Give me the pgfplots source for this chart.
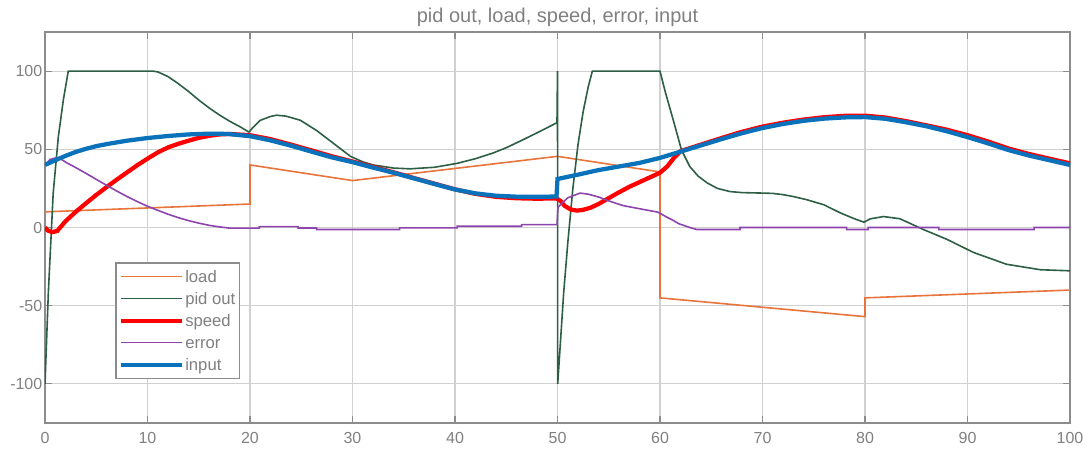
\documentclass[border=0pt]{standalone}
\usepackage{fontspec}
\setmainfont{Liberation Sans}
\usepackage{pgfplots}
\pgfplotsset{compat=1.18}
\usetikzlibrary{calc}
\definecolor{cload}{HTML}{E8743B}
\definecolor{cpid}{HTML}{2D5F45}
\definecolor{cspeed}{HTML}{FF0000}
\definecolor{cerr}{HTML}{8E44AD}
\definecolor{cinput}{HTML}{0A72BA}
\definecolor{txtgray}{HTML}{808080}
\definecolor{axgray}{HTML}{8C8C8C}
\definecolor{gridgray}{HTML}{D0D0D0}
\newcommand{\legtxt}[1]{\textcolor{txtgray}{#1}}
\begin{document}
\begin{tikzpicture}
\begin{axis}[
 scale only axis,width=768.75pt,height=293.25pt,
 xmin=0,xmax=100,ymin=-125,ymax=125,
 xtick={0,10,...,100},ytick={-100,-50,0,50,100},
 grid=major,major grid style={draw=gridgray,line width=0.8pt},
 axis line style={draw=axgray,line width=0.9pt},
 tick style={draw=axgray,line width=0.8pt},
 major tick length=5pt,
 ticklabel style={font=\fontsize{12}{13}\selectfont,text=txtgray},
 xticklabel style={yshift=-3.5pt},
 yticklabel style={xshift=1.5pt},
 /pgf/number format/assume math mode=true,
 title={pid out, load, speed, error, input},
 title style={font=\fontsize{15}{17}\selectfont,text=txtgray,at={(0.5,1)},anchor=base,yshift=1pt},
 legend cell align=left,
 legend style={name=mylegend,at={(0.0693,0.409)},anchor=north west,draw=none,fill=white,
   font=\fontsize{12.5}{14}\selectfont,inner sep=2pt,row sep=0.5pt,
   nodes={inner sep=1pt,text height=11pt,text depth=3pt}},
 legend image code/.code={\draw[#1] (0cm,0cm) -- (1.6cm,0cm);},
]
% load
\addplot[color=cload,draw=cload,line width=1.2pt] coordinates {
(0,10) (20,15) (20,40) (30,30) (50,45.5) (60,35.5) (60,-45) (80,-57) (80,-45) (100,-40)};
\addlegendentry{\legtxt{load}}
% pid out
\addplot[color=cpid,draw=cpid,line width=1.2pt] coordinates {
(0,-100) (0.33,-41) (0.8,22) (1.3,58) (1.8,82) (2.27,100) (10.5,100) (11,99.5) (12,96.5)
(13,92) (14,87) (15,81.5) (16,76.5) (17,72) (18,68) (19,64.5) (19.9,61) (20.3,64) (21,68.5)
(22,71) (22.6,71.8) (23.5,71.2) (24.9,68.6) (26.5,62) (28.1,54) (29.8,45.5) (31,42) (32,40)
(34,38) (35.6,37.5) (38,38.5) (40.2,41) (42,44) (43.7,47.6) (45,51) (46.6,56) (48,60.5)
(49.95,67) (50,100) (50.02,-100) (50.3,-72) (50.6,-42) (51,-10) (51.5,25) (52,53) (52.5,74)
(53,90) (53.4,100) (60,100) (60.5,87) (61.3,68.5) (62.1,49.5) (62.9,39) (63.7,33) (64.6,28.5)
(65.6,25) (66.8,23) (68,22.3) (70,22) (71,21.8) (72,21) (73,19.8) (74.3,17.8) (76,14.5)
(77.6,9.3) (79,5.5) (79.9,3.4) (80.5,5.5) (81.8,7) (83.4,5.6) (85.7,-1.3) (88,-7.6)
(90.6,-16) (93.8,-23.5) (97.1,-27) (100,-27.7)};
\addlegendentry{\legtxt{pid out}}
% speed
\addplot[color=cspeed,draw=cspeed,line width=3.2pt] coordinates {
(0,0) (0.3,-2) (0.7,-3) (1.2,-2.2) (2,4) (3,10) (4,15.5) (5,20.8) (6,25.8) (7,30.6)
(8,35.2) (9,39.8) (10,44) (11,48) (12,51.2) (13,53.5) (14,55.5) (15,57.3) (16,58.6)
(17,59.5) (18,59.8) (20,59) (22,56.5) (24,53) (26,49.3) (28,45.5) (30,42.2) (32,38.8)
(34,35.3) (36,31.6) (38,28) (40,24.4) (42,21.5) (44,19.6) (46,18.7) (48,18.4) (49.9,18.6)
(50.3,17) (50.7,13.8) (51.3,11.5) (51.9,10.8) (52.5,11.3) (53.2,12.6) (54,15) (55,18.8)
(56,22.5) (57,26) (58,29) (59,32) (60,35) (60.7,39) (61.3,44) (62,48.8) (64,53) (66,57.2)
(68,61.2) (70,64.5) (72,67) (74,69) (76,70.5) (78,71.4) (80,71.5) (82,70.3) (84,68)
(86,65.3) (88,62.5) (90,59) (92,55) (94,50.5) (96,47) (98,44) (100,41)};
\addlegendentry{\legtxt{speed}}
% error
\addplot[color=cerr,draw=cerr,line width=1.2pt] coordinates {
(0,40) (0.5,43.5) (1,44.4) (1.5,44) (2,41.8) (3,38.3) (4,34.6) (5,30.8) (6,27) (7,23.3)
(8,19.8) (9,16.6) (10,13.6) (11,11) (12,8.5) (13,6.3) (14,4.4) (15,2.8) (16,1.4) (17,0.4)
(18,-0.4) (20.9,-0.4) (20.9,0.6) (24.7,0.6) (24.7,-0.3) (26.5,-0.3) (26.5,-1.3) (34.6,-1.3)
(34.6,-0.2) (40.2,-0.2) (40.2,0.8) (46.5,0.8) (46.5,1.8) (49.95,1.8) (50.05,13) (51,19)
(52.2,22) (53,21.3) (54,19.5) (55,17) (56.4,14) (58,12) (59.8,9.8) (60.7,6.5) (61.3,4.5)
(61.8,2.5) (62.9,0) (63.6,-1.3) (67.8,-1.3) (67.8,0) (78.2,0) (78.2,-1.3) (80.3,-1.3)
(80.3,0) (87.2,0) (87.2,-1.3) (96.5,-1.3) (96.5,0) (100,0)};
\addlegendentry{\legtxt{error}}
% input
\addplot[color=cinput,draw=cinput,line width=3.2pt] coordinates {
(0,40) (1,43) (2,45.8) (3,48.3) (4,50.3) (5,52) (6,53.3) (8,55.5) (10,57.2) (12,58.5)
(14,59.5) (16,60) (17,60) (18,59.7) (20,58.4) (22,55.7) (24,52.3) (26,48.5) (28,44.8)
(30,41.8) (32,38.3) (34,35) (36,31.4) (38,27.8) (40,24.3) (42,21.8) (44,20.3) (46,19.7)
(48,19.6) (49.9,19.8) (50,31) (52,33.8) (54,36.7) (56,39) (58,41.3) (60,44.5) (62,48.5)
(64,52.5) (66,56.5) (68,60.3) (70,63.6) (72,66.2) (74,68.2) (76,69.6) (78,70.4) (80,70.6)
(82,69.5) (84,67.3) (86,64.7) (88,61.5) (90,57.8) (92,53.8) (94,49.5) (96,46) (98,43) (100,40)};
\addlegendentry{\legtxt{input}}
\end{axis}
\draw[axgray,line width=0.9pt] (mylegend.south west) rectangle (mylegend.north east);
\pgfresetboundingbox
\path ($(current axis.south west)+(-33.75pt,-21.75pt)$) rectangle ($(current axis.north east)+(15pt,24pt)$);
\end{tikzpicture}
\end{document}
